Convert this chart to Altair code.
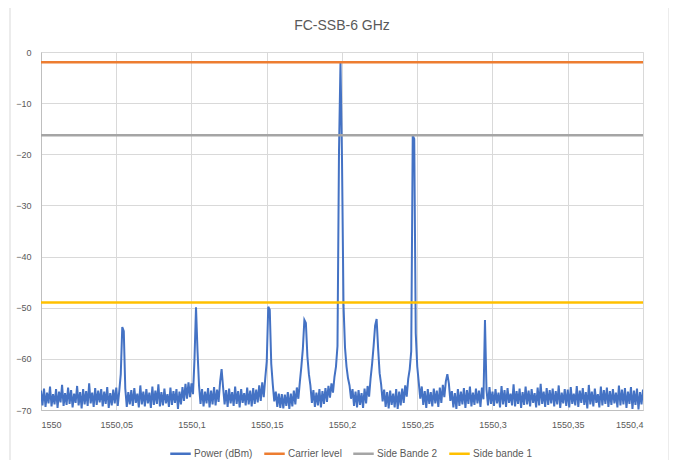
import altair as alt
import pandas as pd

# ---- data -------------------------------------------------------------
freq_start = 1550.0
freq_step = 0.001

power_dbm = [
    # 1550.000 - 1550.019
    -66.2, -69.1, -65.8, -69.4, -66.6, -68.7, -65.4, -69.3, -66.9, -68.9,
    -65.9, -69.6, -66.4, -68.5, -65.1, -69.2, -66.7, -69.0, -65.6, -68.8,
    # 1550.020 - 1550.039
    -66.1, -69.5, -66.8, -68.6, -65.3, -69.1, -66.5, -69.7, -65.9, -68.9,
    -66.3, -69.2, -64.8, -68.7, -66.6, -69.4, -65.7, -69.0, -66.2, -68.5,
    # 1550.040 - 1550.059
    -65.9, -69.3, -66.4, -68.8, -65.5, -69.6, -66.7, -69.1, -66.0, -68.7,
    -65.6, -69.2, -66.3, -63.0, -53.8, -54.6, -65.8, -69.4, -66.5, -68.9,
    # 1550.060 - 1550.079
    -66.1, -69.2, -65.7, -68.6, -66.8, -69.5, -65.2, -68.9, -66.4, -69.3,
    -65.9, -68.7, -66.6, -69.6, -65.4, -69.0, -66.2, -68.8, -65.0, -69.3,
    # 1550.080 - 1550.099
    -66.5, -69.1, -65.8, -68.7, -66.9, -69.4, -65.6, -69.0, -66.3, -68.6,
    -65.9, -69.8, -66.4, -68.9, -65.5, -68.2, -64.9, -67.8, -64.6, -67.5,
    # 1550.100 - 1550.119
    -64.8, -66.9, -60.0, -49.9, -58.5, -65.2, -68.8, -65.9, -69.3, -66.4,
    -68.7, -65.7, -69.5, -66.2, -68.9, -65.5, -69.1, -66.0, -68.4, -64.5,
    # 1550.120 - 1550.139
    -62.0, -65.6, -68.9, -66.1, -69.4, -65.8, -68.7, -66.5, -69.2, -65.4,
    -68.8, -66.3, -69.5, -65.9, -68.6, -66.7, -69.1, -65.6, -68.9, -66.2,
    # 1550.140 - 1550.159
    -69.3, -65.7, -68.8, -66.0, -68.5, -65.2, -68.2, -64.6, -67.5, -63.8,
    -60.5, -49.8, -50.4, -61.0, -65.0, -68.3, -66.4, -69.4, -66.8, -69.6,
    # 1550.160 - 1550.179
    -66.9, -69.7, -67.0, -69.2, -66.5, -69.8, -66.8, -69.3, -66.2, -68.9,
    -65.6, -67.8, -64.5, -61.5, -58.0, -52.4, -53.0, -59.5, -63.0, -65.2,
    # 1550.180 - 1550.199
    -68.6, -66.1, -69.4, -66.6, -69.1, -65.9, -69.5, -66.3, -68.8, -65.7,
    -68.4, -65.3, -67.6, -64.8, -66.6, -63.5, -61.5, -57.5, -19.5, -2.0,
    # 1550.200 - 1550.219
    -21.0, -49.5, -57.8, -61.5, -63.8, -65.2, -67.8, -65.9, -69.2, -66.4,
    -69.5, -66.1, -69.0, -66.7, -69.6, -65.8, -68.7, -65.3, -67.4, -63.8,
    # 1550.220 - 1550.239
    -61.0, -57.5, -53.5, -52.2, -58.0, -62.8, -65.0, -68.3, -66.0, -69.4,
    -66.5, -69.7, -66.2, -69.0, -66.8, -69.5, -65.9, -69.8, -66.4, -69.1,
    # 1550.240 - 1550.259
    -65.8, -68.6, -65.2, -67.4, -63.9, -62.0, -58.5, -16.3, -17.0, -55.0,
    -61.5, -64.6, -67.8, -65.4, -69.0, -66.3, -69.6, -65.9, -68.8, -66.5,
    # 1550.260 - 1550.279
    -69.3, -65.8, -68.7, -66.2, -69.4, -65.6, -68.6, -65.1, -67.5, -64.4,
    -63.0, -64.8, -68.2, -66.3, -69.5, -66.7, -69.8, -65.9, -69.2, -66.4,
    # 1550.280 - 1550.299
    -68.9, -65.7, -69.6, -66.1, -68.8, -65.4, -69.3, -66.6, -69.0, -65.8,
    -68.7, -66.2, -69.4, -65.6, -67.9, -52.4, -66.0, -69.1, -65.5, -68.8,
    # 1550.300 - 1550.319
    -66.4, -69.2, -65.9, -68.7, -66.6, -69.5, -65.3, -68.9, -66.1, -69.4,
    -65.7, -68.6, -66.8, -69.1, -65.0, -69.3, -66.3, -68.8, -65.8, -69.6,
    # 1550.320 - 1550.339
    -66.5, -69.0, -65.4, -68.9, -66.2, -69.3, -65.9, -68.6, -66.7, -69.5,
    -65.6, -69.1, -64.9, -68.8, -66.4, -69.4, -65.7, -69.0, -66.1, -68.7,
    # 1550.340 - 1550.359
    -65.8, -69.3, -66.3, -68.9, -65.2, -69.6, -66.6, -68.7, -65.9, -69.2,
    -66.0, -69.5, -65.5, -68.8, -66.8, -69.1, -65.3, -69.4, -66.2, -68.6,
    # 1550.360 - 1550.379
    -65.7, -69.0, -66.5, -69.7, -65.1, -68.9, -66.4, -69.3, -65.8, -68.6,
    -66.9, -69.5, -65.4, -69.1, -66.1, -68.8, -65.6, -69.4, -66.3, -69.0,
    # 1550.380 - 1550.399
    -65.9, -68.7, -66.6, -69.5, -65.2, -69.1, -66.0, -68.9, -65.7, -69.6,
    -66.4, -68.8, -65.5, -69.8, -66.2, -69.0, -65.8, -69.9, -66.5, -68.9,
    # 1550.400
    -66.0,
]
assert len(power_dbm) == 401

level_names = ["Carrier level", "Side Bande 2", "Side bande 1"]
level_values = [-2.0, -16.3, -49.0]

series_names = ["Power (dBm)", "Carrier level", "Side Bande 2", "Side bande 1"]
series_colors = ["#4472C4", "#ED7D31", "#A5A5A5", "#FFC000"]

x_ticks = [1550.0, 1550.05, 1550.1, 1550.15, 1550.2, 1550.25, 1550.3, 1550.35, 1550.4]
y_ticks = [0, -10, -20, -30, -40, -50, -60, -70]

# ---- tables -------------------------------------------------------------
spec = pd.DataFrame({
    "freq": [round(freq_start + i * freq_step, 4) for i in range(len(power_dbm))],
    "power": power_dbm,
    "series": "Power (dBm)",
})
levels = pd.DataFrame({"series": level_names, "level": level_values})

FONT = "Liberation Sans Narrow, Liberation Sans, sans-serif"
TXT = "#595959"

color = alt.Color(
    "series:N",
    scale=alt.Scale(domain=series_names, range=series_colors),
    legend=alt.Legend(
        title=None,
        orient="none",
        legendX=128,
        legendY=390,
        direction="horizontal",
        symbolType="stroke",
        symbolStrokeWidth=2.5,
        symbolSize=420,
        labelFont=FONT,
        labelFontSize=10,
        labelColor=TXT,
        columnPadding=6,
        labelOffset=2,
    ),
)

x_enc = alt.X(
    "freq:Q",
    scale=alt.Scale(domain=[1550.0, 1550.4], nice=False, zero=False),
    axis=alt.Axis(
        values=x_ticks,
        labelExpr="replace(format(datum.value, '.2~f'), '.', ',')",
        title=None,
        grid=True,
        gridColor="#D9D9D9",
        ticks=False,
        domainColor="#BFBFBF",
        labelPadding=10,
        labelFont=FONT,
        labelFontSize=9,
        labelColor=TXT,
    ),
)

y_scale = alt.Scale(domain=[-70, 0], nice=False)
y_axis = alt.Axis(
    values=y_ticks,
    title=None,
    grid=True,
    gridColor="#D9D9D9",
    ticks=False,
    domainColor="#BFBFBF",
    labelPadding=10,
    labelFont=FONT,
    labelFontSize=9,
    labelColor=TXT,
)

line = alt.Chart(spec).mark_line(strokeWidth=2, clip=True).encode(
    x=x_enc,
    y=alt.Y("power:Q", scale=y_scale, axis=y_axis),
    color=color,
)

rules = alt.Chart(levels).mark_rule(strokeWidth=2.5).encode(
    y=alt.Y("level:Q", scale=y_scale),
    color=color,
)

border = alt.Chart(alt.Data(values=[{"a": 1}])).mark_rect(
    fill=None, stroke="#D9D9D9", strokeWidth=1
).encode(
    x=alt.value(-31), x2=alt.value(628), y=alt.value(-46), y2=alt.value(410)
)

chart = alt.layer(line, rules, border).properties(
    width=602,
    height=358,
    title=alt.TitleParams(
        "FC-SSB-6 GHz", font=FONT, fontSize=14, fontWeight="normal",
        color=TXT, anchor="middle", offset=0, dy=27,
    ),
    padding={"left": 33, "top": 44, "right": 26, "bottom": 50},
    autosize=alt.AutoSizeParams(type="none"),
).configure_view(stroke=None).configure(background="white")

chart.save("out.html", embed_options={"renderer": "svg", "actions": False})
